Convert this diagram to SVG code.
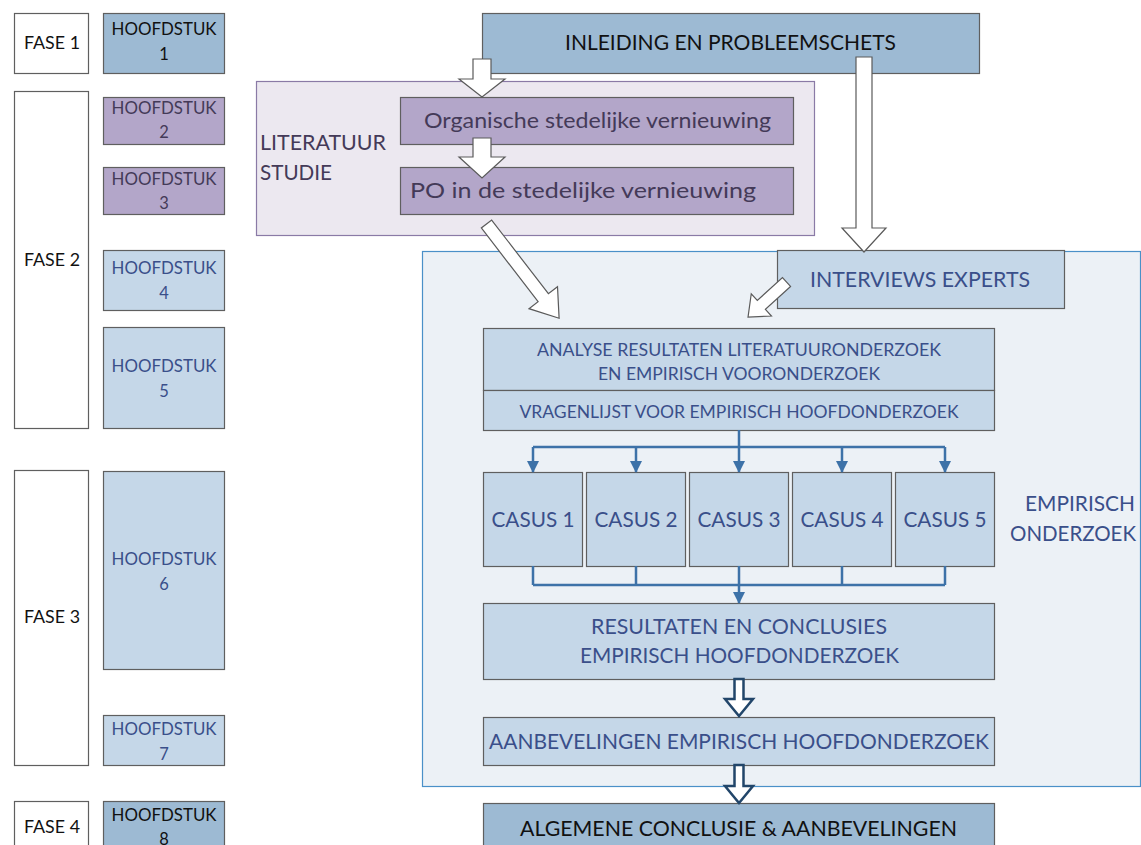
<svg xmlns="http://www.w3.org/2000/svg" width="1141" height="845" viewBox="0 0 1141 845">
<style>
text{font-family:Lato,"Liberation Sans",sans-serif;text-anchor:middle}
.s{font-size:16.5px}
.m{font-size:20.5px}
.st{text-anchor:start}
.fase{fill:#ffffff;stroke:#5f5f5f;stroke-width:1.2}
.dk{fill:#9dbad3;stroke:#5f5f5f;stroke-width:1.2}
.pu{fill:#b3a6c9;stroke:#5f5f5f;stroke-width:1.2}
.lb{fill:#c5d7e8;stroke:#5f5f5f;stroke-width:1.2}
.tk{fill:#111111}
.tp{fill:#443a58}
.tb{fill:#3a4f8a}
.blk{fill:#ffffff;stroke:#5a5a5a;stroke-width:1.2;stroke-linejoin:miter}
.blu{fill:#ffffff;stroke:#22466a;stroke-width:2.5}
.ln{fill:none;stroke:#3d72a8;stroke-width:2.5}
</style>
<defs>
<marker id="ah" markerUnits="userSpaceOnUse" markerWidth="12" markerHeight="12" viewBox="0 0 12 12" refX="11" refY="6" orient="auto">
<path d="M0,0 L12,6 L0,12 Z" fill="#3d72a8"/>
</marker>
</defs>

<!-- containers -->
<g id="literatuur-studie">
<rect x="256.5" y="81.5" width="558" height="154" fill="#ece8f0" stroke="#8a7aa6" stroke-width="1.2"/>
<text class="m tp st" x="260" y="150" textLength="126" lengthAdjust="spacingAndGlyphs">LITERATUUR</text>
<text class="m tp st" x="260" y="180" textLength="72" lengthAdjust="spacingAndGlyphs">STUDIE</text>
</g>
<g id="empirisch-onderzoek">
<rect x="422.5" y="251.5" width="718" height="535" fill="#ecf1f6" stroke="#4a90c8" stroke-width="1.2"/>
<text class="m tb" x="1080" y="511" textLength="110" lengthAdjust="spacingAndGlyphs">EMPIRISCH</text>
<text class="m tb" x="1073" y="541" textLength="126" lengthAdjust="spacingAndGlyphs">ONDERZOEK</text>
</g>

<!-- fase column -->
<g id="fase1"><rect class="fase" x="14.5" y="13.5" width="74" height="60"/><text class="s tk" x="52" y="49" textLength="56" lengthAdjust="spacingAndGlyphs">FASE 1</text></g>
<g id="fase2"><rect class="fase" x="14.5" y="91.5" width="74" height="337"/><text class="s tk" x="52" y="266" textLength="56" lengthAdjust="spacingAndGlyphs">FASE 2</text></g>
<g id="fase3"><rect class="fase" x="14.5" y="470.5" width="74" height="295"/><text class="s tk" x="52" y="623" textLength="56" lengthAdjust="spacingAndGlyphs">FASE 3</text></g>
<g id="fase4"><rect class="fase" x="14.5" y="801.5" width="74" height="60"/><text class="s tk" x="52" y="833" textLength="56" lengthAdjust="spacingAndGlyphs">FASE 4</text></g>

<!-- hoofdstuk column -->
<g id="h1"><rect class="dk" x="103.5" y="13.5" width="121" height="60"/><text class="s tk" x="164" y="35" textLength="105" lengthAdjust="spacingAndGlyphs">HOOFDSTUK</text><text class="s tk" x="164" y="60">1</text></g>
<g id="h2"><rect class="pu" x="103.5" y="97.5" width="121" height="47"/><text class="s tp" x="164" y="114" textLength="105" lengthAdjust="spacingAndGlyphs">HOOFDSTUK</text><text class="s tp" x="164" y="138">2</text></g>
<g id="h3"><rect class="pu" x="103.5" y="167.5" width="121" height="47"/><text class="s tp" x="164" y="185" textLength="105" lengthAdjust="spacingAndGlyphs">HOOFDSTUK</text><text class="s tp" x="164" y="209">3</text></g>
<g id="h4"><rect class="lb" x="103.5" y="250.5" width="121" height="60"/><text class="s tb" x="164" y="274" textLength="105" lengthAdjust="spacingAndGlyphs">HOOFDSTUK</text><text class="s tb" x="164" y="299">4</text></g>
<g id="h5"><rect class="lb" x="103.5" y="327.5" width="121" height="101"/><text class="s tb" x="164" y="372" textLength="105" lengthAdjust="spacingAndGlyphs">HOOFDSTUK</text><text class="s tb" x="164" y="397">5</text></g>
<g id="h6"><rect class="lb" x="103.5" y="471.5" width="121" height="198"/><text class="s tb" x="164" y="565" textLength="105" lengthAdjust="spacingAndGlyphs">HOOFDSTUK</text><text class="s tb" x="164" y="590">6</text></g>
<g id="h7"><rect class="lb" x="103.5" y="715.5" width="121" height="50"/><text class="s tb" x="164" y="735" textLength="105" lengthAdjust="spacingAndGlyphs">HOOFDSTUK</text><text class="s tb" x="164" y="760">7</text></g>
<g id="h8"><rect class="dk" x="103.5" y="801.5" width="121" height="60"/><text class="s tk" x="164" y="821" textLength="105" lengthAdjust="spacingAndGlyphs">HOOFDSTUK</text><text class="s tk" x="164" y="845">8</text></g>

<!-- main flow nodes -->
<g id="inleiding"><rect class="dk" x="482.5" y="13.5" width="497" height="60"/><text class="m tk" x="730.5" y="50" textLength="331" lengthAdjust="spacingAndGlyphs">INLEIDING EN PROBLEEMSCHETS</text></g>
<g id="organische"><rect class="pu" x="400.5" y="97.5" width="393" height="47"/><text class="m tp" x="597.5" y="128" textLength="347" lengthAdjust="spacingAndGlyphs">Organische stedelijke vernieuwing</text></g>
<g id="po"><rect class="pu" x="400.5" y="167.5" width="393" height="47"/><text class="m tp" x="583" y="198" textLength="346" lengthAdjust="spacingAndGlyphs">PO in de stedelijke vernieuwing</text></g>
<g id="interviews"><rect class="lb" x="777.5" y="250.5" width="287" height="58"/><text class="m tb" x="920" y="287" textLength="220" lengthAdjust="spacingAndGlyphs">INTERVIEWS EXPERTS</text></g>
<g id="analyse"><rect class="lb" x="483.5" y="328.5" width="511" height="62"/><text class="s tb" x="739" y="356" textLength="404" lengthAdjust="spacingAndGlyphs">ANALYSE RESULTATEN LITERATUURONDERZOEK</text><text class="s tb" x="739" y="380" textLength="282" lengthAdjust="spacingAndGlyphs">EN EMPIRISCH VOORONDERZOEK</text></g>
<g id="vragenlijst"><rect class="lb" x="483.5" y="390.5" width="511" height="40"/><text class="s tb" x="739" y="418" textLength="439" lengthAdjust="spacingAndGlyphs">VRAGENLIJST VOOR EMPIRISCH HOOFDONDERZOEK</text></g>
<g id="casus1"><rect class="lb" x="483.5" y="472.5" width="99" height="94"/><text class="m tb" x="533" y="527" textLength="83" lengthAdjust="spacingAndGlyphs">CASUS 1</text></g>
<g id="casus2"><rect class="lb" x="586.5" y="472.5" width="99" height="94"/><text class="m tb" x="636" y="527" textLength="83" lengthAdjust="spacingAndGlyphs">CASUS 2</text></g>
<g id="casus3"><rect class="lb" x="689.5" y="472.5" width="99" height="94"/><text class="m tb" x="739" y="527" textLength="83" lengthAdjust="spacingAndGlyphs">CASUS 3</text></g>
<g id="casus4"><rect class="lb" x="792.5" y="472.5" width="99" height="94"/><text class="m tb" x="842" y="527" textLength="83" lengthAdjust="spacingAndGlyphs">CASUS 4</text></g>
<g id="casus5"><rect class="lb" x="895.5" y="472.5" width="99" height="94"/><text class="m tb" x="945" y="527" textLength="83" lengthAdjust="spacingAndGlyphs">CASUS 5</text></g>
<g id="resultaten"><rect class="lb" x="483.5" y="603.5" width="511" height="76"/><text class="m tb" x="739" y="634" textLength="296" lengthAdjust="spacingAndGlyphs">RESULTATEN EN CONCLUSIES</text><text class="m tb" x="739.5" y="663" textLength="319" lengthAdjust="spacingAndGlyphs">EMPIRISCH HOOFDONDERZOEK</text></g>
<g id="aanbevelingen"><rect class="lb" x="483.5" y="717.5" width="511" height="48"/><text class="m tb" x="739" y="749" textLength="500" lengthAdjust="spacingAndGlyphs">AANBEVELINGEN EMPIRISCH HOOFDONDERZOEK</text></g>
<g id="algemene"><rect class="dk" x="483.5" y="803.5" width="511" height="60"/><text class="m tk" x="738.5" y="836" textLength="437" lengthAdjust="spacingAndGlyphs">ALGEMENE CONCLUSIE &amp; AANBEVELINGEN</text></g>

<!-- connectors -->
<g id="connectors">
<path class="blk" d="M473,59 L491,59 L491,79 L505,79 L482,97 L459,79 L473,79 Z"/>
<path class="blk" d="M473,138 L491,138 L491,157 L505,157 L482,178 L459,157 L473,157 Z"/>
<path class="blk" d="M856,57 L872,57 L872,228 L886,228 L864,252 L842,228 L856,228 Z"/>
<path class="blk" transform="translate(486.5,224) rotate(52.4)" d="M0,-6.5 L93,-6.5 L93,-18 L119,0 L93,18 L93,6.5 L0,6.5 Z"/>
<path class="blk" transform="translate(786.5,282) rotate(137.7)" d="M0,-6 L34,-6 L34,-15 L52,0 L34,15 L34,6 L0,6 Z"/>
<path class="blu" d="M734.5,679 L743.5,679 L743.5,699 L753,699 L739,716 L725,699 L734.5,699 Z"/>
<path class="blu" d="M734.5,765 L743.5,765 L743.5,786 L753,786 L739,803 L725,786 L734.5,786 Z"/>
<path class="ln" d="M739,430 L739,447 M533,447 L945,447"/>
<path class="ln" marker-end="url(#ah)" d="M533,447 L533,472"/>
<path class="ln" marker-end="url(#ah)" d="M636,447 L636,472"/>
<path class="ln" marker-end="url(#ah)" d="M739,447 L739,472"/>
<path class="ln" marker-end="url(#ah)" d="M842,447 L842,472"/>
<path class="ln" marker-end="url(#ah)" d="M945,447 L945,472"/>
<path class="ln" d="M533,566 L533,585 M636,566 L636,585 M739,566 L739,585 M842,566 L842,585 M945,566 L945,585 M533,585 L945,585"/>
<path class="ln" marker-end="url(#ah)" d="M739,585 L739,603"/>
</g>
</svg>
